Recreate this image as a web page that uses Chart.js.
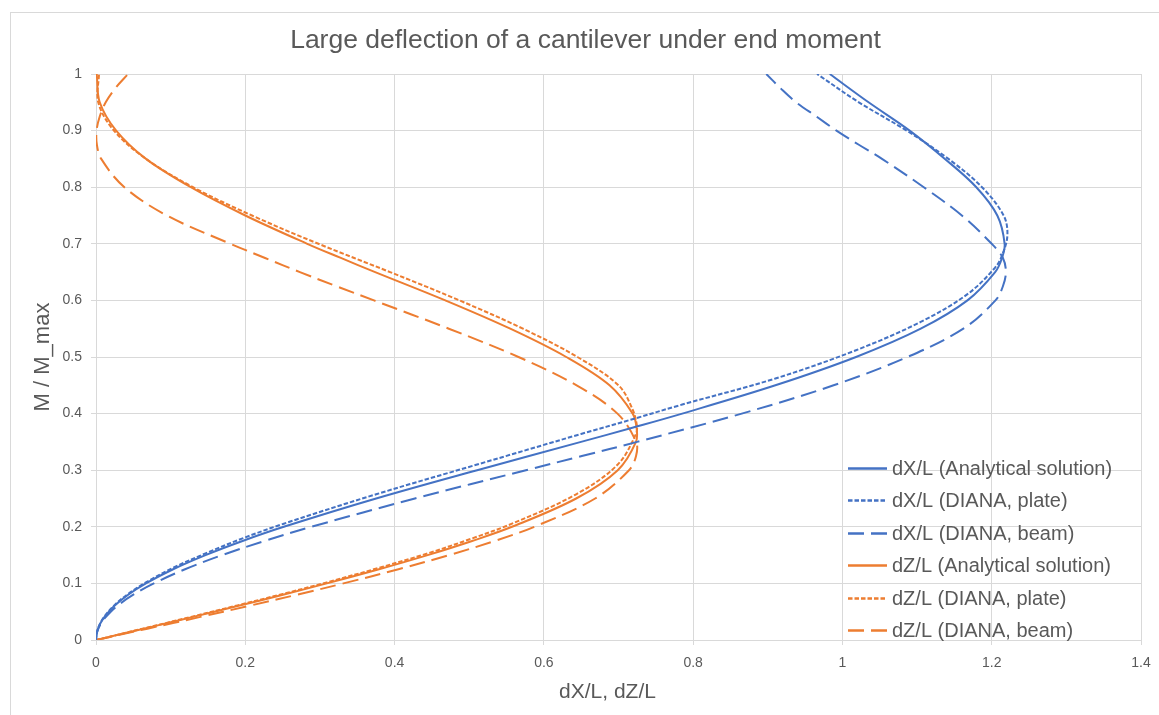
<!DOCTYPE html>
<html>
<head>
<meta charset="utf-8">
<script src="https://cdn.jsdelivr.net/npm/chart.js@4.4.0/dist/chart.umd.min.js"></script>
<style>
html,body{margin:0;padding:0;background:#fff;}
canvas{display:block;}
</style>
</head>
<body>
<canvas id="c" width="1159" height="715"></canvas>
<script>
// ---- Data ----
const seriesNames = [
  'dX/L (Analytical solution)',
  'dX/L (DIANA, plate)',
  'dX/L (DIANA, beam)',
  'dZ/L (Analytical solution)',
  'dZ/L (DIANA, plate)',
  'dZ/L (DIANA, beam)'
];
const chartTitle = 'Large deflection of a cantilever under end moment';
const xAxisTitle = 'dX/L, dZ/L';
const yAxisTitle = 'M / M_max';

// Analytical solution (M/M_max and deflections)
const mAnalytical = [0, 0.01, 0.02, 0.03, 0.04, 0.06, 0.08, 0.1, 0.125, 0.15, 0.175, 0.2, 0.25, 0.3, 0.35, 0.375, 0.4, 0.45, 0.5, 0.55, 0.6, 0.65, 0.675, 0.7, 0.75, 0.8, 0.85, 0.9, 0.95, 1.0];
const dXAnalytical = [0, 0.0007, 0.0027, 0.0061, 0.0109, 0.0244, 0.0431, 0.0669, 0.1033, 0.1467, 0.1963, 0.2516, 0.3753, 0.5106, 0.6498, 0.7186, 0.7854, 0.9102, 1.0182, 1.1049, 1.1675, 1.2046, 1.2138, 1.2173, 1.2075, 1.1794, 1.1373, 1.090, 1.035, 0.983];
const dZAnalytical = [0, 0.032, 0.0639, 0.0957, 0.1273, 0.1896, 0.2505, 0.3092, 0.3791, 0.4443, 0.5039, 0.5573, 0.6433, 0.6990, 0.7234, 0.7242, 0.719, 0.688, 0.630, 0.555, 0.468, 0.374, 0.328, 0.283, 0.200, 0.127, 0.067, 0.027, 0.005, 0.001];

// DIANA plate
const mPlateX = [0, 0.0102, 0.0204, 0.0306, 0.0408, 0.0612, 0.0815, 0.1018, 0.1275, 0.153, 0.1795, 0.2055, 0.2575, 0.31, 0.364, 0.39, 0.416, 0.462, 0.512, 0.562, 0.611, 0.658, 0.68, 0.715, 0.75, 0.8, 0.85, 0.9, 0.95, 1.0];
const dXPlate = [0, 0.0007, 0.0027, 0.0061, 0.0109, 0.0244, 0.0431, 0.0669, 0.1033, 0.1467, 0.1963, 0.2516, 0.3753, 0.5106, 0.6498, 0.7186, 0.7854, 0.9102, 1.0182, 1.1049, 1.1675, 1.2046, 1.214, 1.221, 1.216, 1.187, 1.142, 1.086, 1.022, 0.966];
const mPlateZ = [0, 0.0102, 0.0204, 0.0306, 0.0408, 0.0612, 0.0815, 0.1018, 0.1275, 0.153, 0.1795, 0.2055, 0.2575, 0.31, 0.364, 0.38, 0.41, 0.45, 0.5, 0.55, 0.6, 0.65, 0.7, 0.75, 0.8, 0.85, 0.9, 0.95, 1.0];
const dZPlate = [0, 0.032, 0.0639, 0.0957, 0.1273, 0.1896, 0.2505, 0.3092, 0.3791, 0.4443, 0.5039, 0.5573, 0.6433, 0.699, 0.7234, 0.7245, 0.718, 0.700, 0.645, 0.572, 0.487, 0.394, 0.298, 0.209, 0.130, 0.067, 0.024, 0.003, 0.004];

// DIANA beam
const mBeam = [0, 0.01, 0.02, 0.03, 0.04, 0.06, 0.08, 0.1, 0.125, 0.15, 0.175, 0.2, 0.25, 0.3, 0.325, 0.35, 0.4, 0.45, 0.5, 0.55, 0.6, 0.625, 0.65, 0.675, 0.7, 0.75, 0.8, 0.85, 0.875, 0.9, 0.925, 0.95, 0.975, 1.0];
const dXBeam = [0, 0.0008, 0.0032, 0.0071, 0.0127, 0.0283, 0.050, 0.0775, 0.1193, 0.1691, 0.2258, 0.2885, 0.4272, 0.5759, 0.6509, 0.7249, 0.8651, 0.9882, 1.087, 1.162, 1.205, 1.215, 1.219, 1.215, 1.200, 1.160, 1.109, 1.053, 1.022, 0.992, 0.965, 0.938, 0.917, 0.898];
const dZBeam = [0, 0.0345, 0.0689, 0.1031, 0.1371, 0.2041, 0.2691, 0.3315, 0.4052, 0.4731, 0.5341, 0.5872, 0.6687, 0.7141, 0.7235, 0.7236, 0.6986, 0.6439, 0.566, 0.4727, 0.3724, 0.3221, 0.2732, 0.2265, 0.180, 0.095, 0.038, 0.007, 0.0012, 0.0008, 0.005, 0.013, 0.026, 0.043];

// Axis ticks
const xTickValues = [0, 0.2, 0.4, 0.6, 0.8, 1, 1.2, 1.4];
const xTickLabels = ['0', '0.2', '0.4', '0.6', '0.8', '1', '1.2', '1.4'];
const yTickValues = [0, 0.1, 0.2, 0.3, 0.4, 0.5, 0.6, 0.7, 0.8, 0.9, 1];
const yTickLabels = ['0', '0.1', '0.2', '0.3', '0.4', '0.5', '0.6', '0.7', '0.8', '0.9', '1'];

// ---- Chart ----
const BLUE = '#4472C4';
const ORANGE = '#ED7D31';
const TEXT = '#595959';
const GRID = '#D9D9D9';
const FONT = "'Liberation Sans', Arial, sans-serif";
const DOT = [4.5, 2];
const DASH = [16, 7];

function pts(xs, ys) { return xs.map((x, i) => ({x: x, y: ys[i]})); }

function ds(label, xs, ys, color, dash) {
  return {
    label: label,
    data: pts(xs, ys),
    borderColor: color,
    backgroundColor: color,
    borderWidth: 2,
    borderDash: dash,
    borderCapStyle: 'butt',
    pointRadius: 0,
    pointHoverRadius: 0,
    showLine: true,
    fill: false,
    tension: 0.35
  };
}

const datasets = [
  ds(seriesNames[0], dXAnalytical, mAnalytical, BLUE, []),
  ds(seriesNames[1], dXPlate, mPlateX, BLUE, DOT),
  ds(seriesNames[2], dXBeam, mBeam, BLUE, DASH),
  ds(seriesNames[3], dZAnalytical, mAnalytical, ORANGE, []),
  ds(seriesNames[4], dZPlate, mPlateZ, ORANGE, DOT),
  ds(seriesNames[5], dZBeam, mBeam, ORANGE, DASH)
];

// Background, outer frame and titles
const framePlugin = {
  id: 'frame',
  beforeDraw(chart) {
    const ctx = chart.ctx;
    ctx.save();
    ctx.fillStyle = '#ffffff';
    ctx.fillRect(0, 0, chart.width, chart.height);
    ctx.strokeStyle = GRID;
    ctx.lineWidth = 1;
    ctx.strokeRect(10.5, 12.5, chart.width + 20, chart.height + 20);
    ctx.restore();
  },
  afterDraw(chart) {
    const ctx = chart.ctx;
    const area = chart.chartArea;
    ctx.save();
    ctx.fillStyle = TEXT;
    ctx.textAlign = 'center';
    ctx.textBaseline = 'middle';
    // chart title
    ctx.font = '26.5px ' + FONT;
    ctx.fillText(chartTitle, 585.5, 41);
    // x axis title
    ctx.font = '21px ' + FONT;
    ctx.fillText(xAxisTitle, (area.left + area.right) / 2 - 11, 692);
    // y axis title
    ctx.translate(43, (area.top + area.bottom) / 2);
    ctx.rotate(-Math.PI / 2);
    ctx.font = '22px ' + FONT;
    ctx.fillText(yAxisTitle, 0, 0);
    ctx.restore();
  }
};

const legendPlugin = {
  id: 'insideLegend',
  afterDatasetsDraw(chart) {
    const ctx = chart.ctx;
    const area = chart.chartArea;
    const x0 = area.right - 293;
    const lineLen = 39;
    const y0 = area.bottom - 172;
    const step = 32.4;
    ctx.save();
    ctx.font = '20px ' + FONT;
    ctx.textBaseline = 'middle';
    ctx.textAlign = 'left';
    chart.data.datasets.forEach((d, i) => {
      const y = Math.round(y0 + i * step) + 0.5;
      ctx.strokeStyle = d.borderColor;
      ctx.lineWidth = 2.5;
      ctx.lineCap = 'butt';
      ctx.setLineDash(d.borderDash || []);
      ctx.beginPath();
      ctx.moveTo(x0, y);
      ctx.lineTo(x0 + lineLen, y);
      ctx.stroke();
      ctx.setLineDash([]);
      ctx.fillStyle = TEXT;
      ctx.fillText(d.label, x0 + lineLen + 5, y + 1);
    });
    ctx.restore();
  }
};

new Chart(document.getElementById('c'), {
  type: 'scatter',
  data: { datasets: datasets },
  plugins: [framePlugin, legendPlugin],
  options: {
    responsive: false,
    devicePixelRatio: 1,
    animation: false,
    layout: { padding: { left: 10, right: 18, top: 74, bottom: 0 } },
    plugins: {
      legend: { display: false },
      tooltip: { enabled: false },
      title: { display: false }
    },
    scales: {
      x: {
        type: 'linear',
        min: 0,
        max: 1.4,
        afterFit(s) { s.height = 75; s.paddingLeft = 0; s.paddingRight = 0; },
        afterBuildTicks(s) { s.ticks = xTickValues.map(v => ({ value: v })); },
        ticks: {
          color: TEXT,
          font: { family: FONT, size: 14 },
          padding: 10,
          maxRotation: 0,
          autoSkip: false,
          callback: (v, i) => xTickLabels[i]
        },
        grid: { color: GRID, lineWidth: 1, tickLength: 5, drawTicks: true },
        border: { color: GRID, width: 1 },
        title: { display: false }
      },
      y: {
        type: 'linear',
        min: 0,
        max: 1,
        afterFit(s) { s.width = 86; },
        afterBuildTicks(s) { s.ticks = yTickValues.map(v => ({ value: v })); },
        ticks: {
          color: TEXT,
          font: { family: FONT, size: 14 },
          padding: 9,
          autoSkip: false,
          callback: (v, i) => yTickLabels[i]
        },
        grid: { color: GRID, lineWidth: 1, tickLength: 5, drawTicks: true },
        border: { color: GRID, width: 1 },
        title: { display: false }
      }
    }
  }
});
</script>
</body>
</html>
